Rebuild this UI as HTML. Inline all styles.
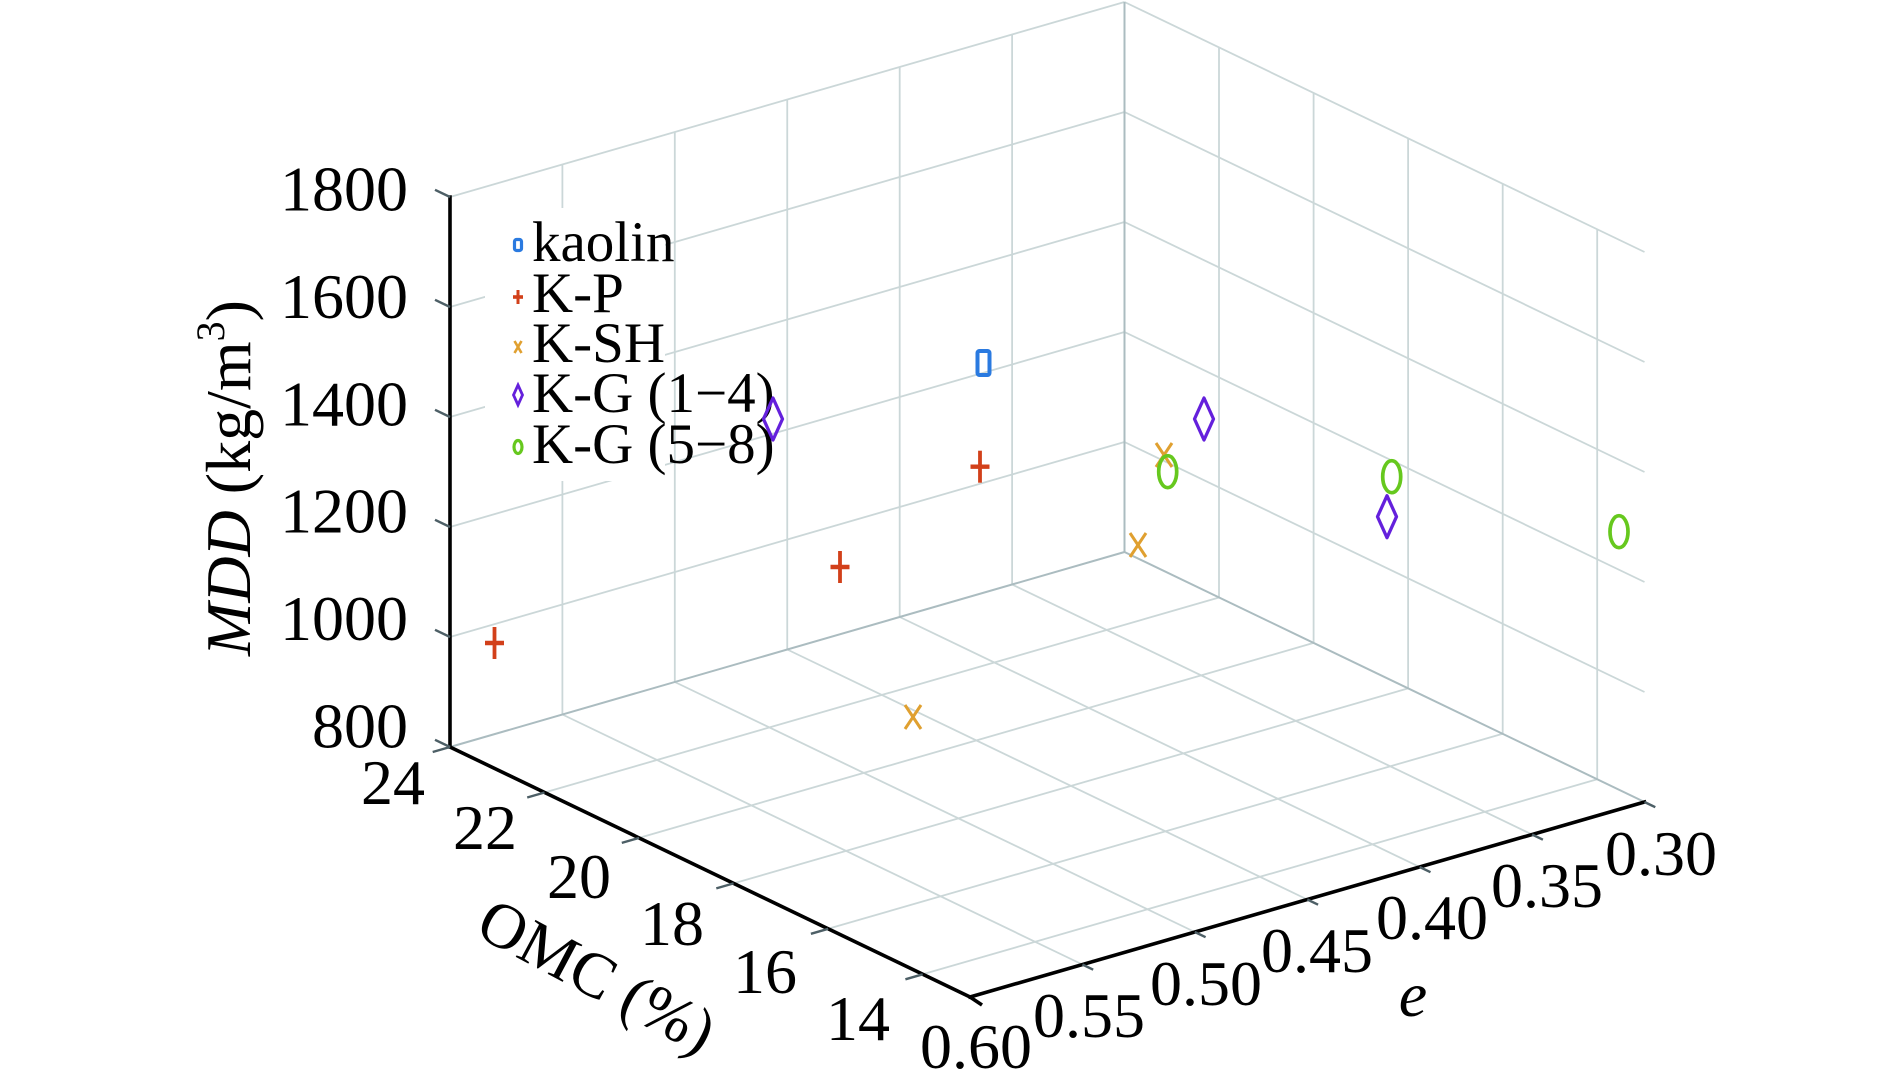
<!DOCTYPE html>
<html>
<head>
<meta charset="utf-8">
<style>
html,body{margin:0;padding:0;background:#fff;}
svg{display:block;}
text{font-family:"Liberation Serif","Times New Roman",serif;fill:#000;}
</style>
</head>
<body>
<svg width="1890" height="1089" viewBox="0 0 1890 1089" xmlns="http://www.w3.org/2000/svg">
<rect x="0" y="0" width="1890" height="1089" fill="#fff"/>

<!-- grid lines -->
<g stroke="#cbd7d8" stroke-width="1.8" fill="none">
  <line x1="450" y1="637" x2="1124.5" y2="442"/>
  <line x1="450" y1="527" x2="1124.5" y2="332"/>
  <line x1="450" y1="417" x2="1124.5" y2="222"/>
  <line x1="450" y1="307" x2="1124.5" y2="112"/>
  <line x1="450" y1="197" x2="1124.5" y2="2"/>
  <line x1="562.4" y1="714.5" x2="562.4" y2="164.5"/>
  <line x1="674.8" y1="682" x2="674.8" y2="132"/>
  <line x1="787.25" y1="649.5" x2="787.25" y2="99.5"/>
  <line x1="899.7" y1="617" x2="899.7" y2="67"/>
  <line x1="1012.1" y1="584.5" x2="1012.1" y2="34.5"/>
  <line x1="1124.5" y1="442" x2="1644.5" y2="692"/>
  <line x1="1124.5" y1="332" x2="1644.5" y2="582"/>
  <line x1="1124.5" y1="222" x2="1644.5" y2="472"/>
  <line x1="1124.5" y1="112" x2="1644.5" y2="362"/>
  <line x1="1124.5" y1="2" x2="1644.5" y2="252"/>
  <line x1="1219" y1="597.5" x2="1219" y2="47.5"/>
  <line x1="1313.6" y1="642.9" x2="1313.6" y2="92.9"/>
  <line x1="1408.1" y1="688.4" x2="1408.1" y2="138.4"/>
  <line x1="1502.7" y1="733.8" x2="1502.7" y2="183.8"/>
  <line x1="1597.2" y1="779.3" x2="1597.2" y2="229.3"/>
  <line x1="562.4" y1="714.5" x2="1082.4" y2="964.5"/>
  <line x1="674.8" y1="682" x2="1194.8" y2="932"/>
  <line x1="787.25" y1="649.5" x2="1307.25" y2="899.5"/>
  <line x1="899.7" y1="617" x2="1419.7" y2="867"/>
  <line x1="1012.1" y1="584.5" x2="1532.1" y2="834.5"/>
  <line x1="544.5" y1="792.5" x2="1219" y2="597.5"/>
  <line x1="639.1" y1="837.9" x2="1313.6" y2="642.9"/>
  <line x1="733.6" y1="883.4" x2="1408.1" y2="688.4"/>
  <line x1="828.2" y1="928.8" x2="1502.7" y2="733.8"/>
  <line x1="922.7" y1="974.3" x2="1597.2" y2="779.3"/>
</g>
<g stroke="#abbcc0" stroke-width="2" fill="none">
  <line x1="450" y1="747" x2="1124.5" y2="552"/>
  <line x1="1124.5" y1="552" x2="1644.5" y2="802"/>
  <line x1="1124.5" y1="552" x2="1124.5" y2="2"/>
</g>

<!-- legend background -->
<rect x="485" y="208" width="180" height="273" fill="#fff"/>

<!-- axes -->
<g stroke="#000" stroke-width="3.6" fill="none" stroke-linecap="square">
  <line x1="450" y1="747" x2="450" y2="197"/>
  <line x1="450" y1="747" x2="970" y2="997"/>
  <line x1="970" y1="997" x2="1644.5" y2="802"/>
</g>
<line x1="970" y1="997" x2="982" y2="1005" stroke="#000" stroke-width="3.6"/>

<!-- ticks -->
<g stroke="#4d5f66" stroke-width="2.4" fill="none">
  <line x1="450" y1="747" x2="435" y2="739.8"/>
  <line x1="450" y1="637" x2="435" y2="629.8"/>
  <line x1="450" y1="527" x2="435" y2="519.8"/>
  <line x1="450" y1="417" x2="435" y2="409.8"/>
  <line x1="450" y1="307" x2="435" y2="299.8"/>
  <line x1="450" y1="197" x2="435" y2="189.8"/>
  <line x1="450" y1="747" x2="432.7" y2="752"/>
  <line x1="544.5" y1="792.5" x2="527.2" y2="797.5"/>
  <line x1="639.1" y1="837.9" x2="621.8" y2="842.9"/>
  <line x1="733.6" y1="883.4" x2="716.3" y2="888.4"/>
  <line x1="828.2" y1="928.8" x2="810.9" y2="933.8"/>
  <line x1="922.7" y1="974.3" x2="905.4" y2="979.3"/>
  <line x1="1082.4" y1="964.5" x2="1093.2" y2="969.7"/>
  <line x1="1194.8" y1="932" x2="1205.6" y2="937.2"/>
  <line x1="1307.3" y1="899.5" x2="1318.1" y2="904.7"/>
  <line x1="1419.7" y1="867" x2="1430.5" y2="872.2"/>
  <line x1="1532.1" y1="834.5" x2="1542.9" y2="839.7"/>
  <line x1="1644.5" y1="802" x2="1655.3" y2="807.2"/>
</g>

<!-- Z tick labels -->
<g font-size="64" text-anchor="end">
  <text x="408" y="210.5">1800</text>
  <text x="408" y="318">1600</text>
  <text x="408" y="425.5">1400</text>
  <text x="408" y="532.5">1200</text>
  <text x="408" y="640">1000</text>
  <text x="408" y="747.5">800</text>
</g>

<!-- OMC tick labels -->
<g font-size="64" text-anchor="middle">
  <text x="393" y="804">24</text>
  <text x="485" y="849">22</text>
  <text x="579" y="898">20</text>
  <text x="672" y="945">18</text>
  <text x="765" y="993">16</text>
  <text x="858" y="1040">14</text>
</g>

<!-- e tick labels -->
<g font-size="64" text-anchor="middle">
  <text x="976" y="1068">0.60</text>
  <text x="1089" y="1037">0.55</text>
  <text x="1206" y="1005">0.50</text>
  <text x="1317" y="972">0.45</text>
  <text x="1432" y="939">0.40</text>
  <text x="1547" y="907">0.35</text>
  <text x="1661" y="875">0.30</text>
</g>

<!-- axis titles -->
<text transform="translate(250,478) rotate(-90)" text-anchor="middle" font-size="64"><tspan font-style="italic">MDD</tspan> (kg/m<tspan font-size="40" dy="-26">3</tspan><tspan dy="26">)</tspan></text>
<text transform="translate(596,978) rotate(28)" x="0" y="19" text-anchor="middle" font-size="64">OMC (%)</text>
<text x="1413" y="1016" text-anchor="middle" font-size="64" font-style="italic">e</text>

<!-- legend -->
<g font-size="57">
  <text x="532" y="261">kaolin</text>
  <text x="532" y="312">K-P</text>
  <text x="532" y="362">K-SH</text>
  <text x="532" y="412">K-G (1−4)</text>
  <text x="532" y="463">K-G (5−8)</text>
</g>
<g fill="none">
  <rect x="514.5" y="239.5" width="7" height="11" rx="2" stroke="#2a7ae0" stroke-width="3.2"/>
  <line x1="513" y1="297" x2="523" y2="297" stroke="#d2401a" stroke-width="3.6"/>
  <line x1="518" y1="290" x2="518" y2="304" stroke="#d2401a" stroke-width="3"/>
  <line x1="514.5" y1="341" x2="521.5" y2="353" stroke="#e0a030" stroke-width="2.6"/>
  <line x1="521.5" y1="341" x2="514.5" y2="353" stroke="#e0a030" stroke-width="2.6"/>
  <path d="M518 385 L522.5 395 L518 405 L513.5 395 Z" stroke="#6420dc" stroke-width="2.8"/>
  <ellipse cx="518" cy="447" rx="4" ry="6.5" stroke="#66c81e" stroke-width="3.2"/>
</g>

<!-- data: kaolin -->
<rect x="977.5" y="351" width="12" height="24" rx="2" fill="none" stroke="#2a7ae0" stroke-width="4"/>

<!-- data: K-P -->
<g stroke="#d2401a" fill="none">
  <line x1="485" y1="643" x2="504" y2="643" stroke-width="4.4"/>
  <line x1="494.5" y1="627" x2="494.5" y2="659" stroke-width="3.8"/>
  <line x1="830.5" y1="567" x2="849.5" y2="567" stroke-width="4.4"/>
  <line x1="840" y1="551" x2="840" y2="583" stroke-width="3.8"/>
  <line x1="970.5" y1="466.7" x2="989.5" y2="466.7" stroke-width="4.4"/>
  <line x1="980" y1="450.7" x2="980" y2="482.7" stroke-width="3.8"/>
</g>

<!-- data: K-SH -->
<g stroke="#e0a030" stroke-width="3" fill="none">
  <line x1="905" y1="705" x2="921" y2="729"/>
  <line x1="921" y1="705" x2="905" y2="729"/>
  <line x1="1130" y1="533" x2="1146" y2="557"/>
  <line x1="1146" y1="533" x2="1130" y2="557"/>
  <line x1="1156" y1="443" x2="1172" y2="467"/>
  <line x1="1172" y1="443" x2="1156" y2="467"/>
</g>

<!-- data: K-G (1-4) -->
<g stroke="#6420dc" stroke-width="3.3" fill="none" stroke-linejoin="round">
  <path d="M773 398 L782.5 419 L773 440 L763.5 419 Z"/>
  <path d="M1204 398 L1213.5 419 L1204 440 L1194.5 419 Z"/>
  <path d="M1387 495.7 L1396.5 516.7 L1387 537.7 L1377.5 516.7 Z"/>
</g>

<!-- data: K-G (5-8) -->
<g stroke="#66c81e" stroke-width="3.7" fill="none">
  <ellipse cx="1167.7" cy="471.7" rx="9" ry="16"/>
  <ellipse cx="1391.7" cy="476.7" rx="9" ry="16"/>
  <ellipse cx="1619" cy="531.7" rx="9" ry="16"/>
</g>
</svg>
</body>
</html>
